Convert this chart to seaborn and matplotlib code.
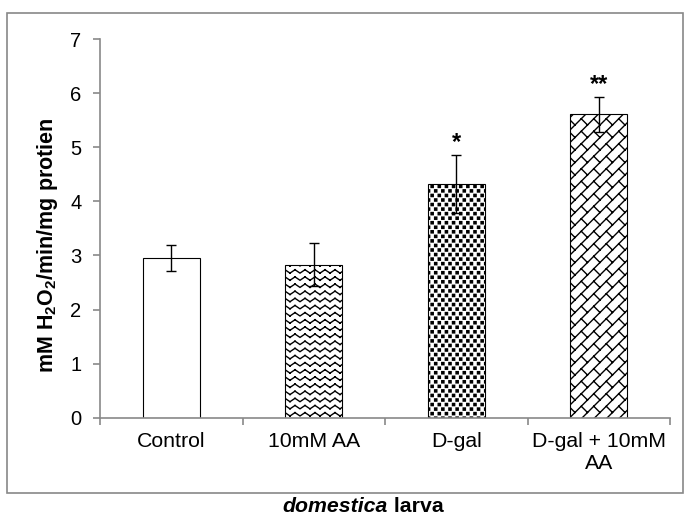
import warnings
warnings.filterwarnings("ignore")
import numpy as np
import pandas as pd
import matplotlib
matplotlib.use("Agg")
import matplotlib.pyplot as plt
import seaborn as sns
from matplotlib import hatch as mhatch
from matplotlib.path import Path
from matplotlib.patches import Rectangle

# ---------------- data ----------------
categories = ["Control", "10mM AA", "D-gal", "D-gal + 10mM\nAA"]
means = [2.95, 2.83, 4.32, 5.61]
errors = [0.24, 0.39, 0.53, 0.32]
marks = ["", "", "*", "**"]
yticks = [0, 1, 2, 3, 4, 5, 6, 7]
hatches = ["", "z", "s", "k"]
ylabel_text = r"mM H$_\mathbf{2}$O$_\mathbf{2}$/min/mg protien"


# ---------------- custom hatch patterns ----------------
def _fill(vertices, codes, items):
    i = 0
    for pts, cds in items:
        n = len(pts)
        vertices[i:i + n] = pts
        codes[i:i + n] = cds
        i += n


class ZigZagHatch(mhatch.HatchPatternBase):
    rows, cols, amp = 14, 10, 0.017

    def __init__(self, hatch, density):
        self.on = "z" in hatch
        self.num_vertices = (self.rows + 1) * self.cols * 4 if self.on else 0

    def set_vertices_and_codes(self, vertices, codes):
        items = []
        for i in range(self.rows + 1):
            y = i / self.rows
            for j in range(self.cols):
                x0 = j / self.cols
                xm = x0 + 0.5 / self.cols
                x1 = x0 + 1.0 / self.cols
                items.append(([(x0, y - self.amp), (xm, y + self.amp)], [Path.MOVETO, Path.LINETO]))
                items.append(([(xm, y + self.amp), (x1, y - self.amp)], [Path.MOVETO, Path.LINETO]))
        _fill(vertices, codes, items)


class SquareDotHatch(mhatch.HatchPatternBase):
    rows, cols, half = 22, 14, 0.011

    def __init__(self, hatch, density):
        self.on = "s" in hatch
        self.num_vertices = (self.rows + 1) * (self.cols + 2) * 5 if self.on else 0

    def set_vertices_and_codes(self, vertices, codes):
        items = []
        h = self.half
        for i in range(self.rows + 1):
            y = i / self.rows
            off = (i % 2) * 0.5 / self.cols
            for j in range(-1, self.cols + 1):
                x = j / self.cols + off
                items.append(([(x - h, y - h), (x + h, y - h), (x + h, y + h), (x - h, y + h), (x - h, y - h)],
                              [Path.MOVETO, Path.LINETO, Path.LINETO, Path.LINETO, Path.CLOSEPOLY]))
        _fill(vertices, codes, items)


class BrickDiagHatch(mhatch.HatchPatternBase):
    N, M = 8, 8

    def __init__(self, hatch, density):
        self.on = "k" in hatch
        nl = 2 * self.N + 1
        ns = (2 * self.N + 2) * (3 * self.M + 4)
        self.num_vertices = (nl + ns) * 2 if self.on else 0

    def set_vertices_and_codes(self, vertices, codes):
        items = []
        N, M = self.N, self.M
        for k in range(-N, N + 1):
            c = k / N
            items.append(([(-0.2, -0.2 + c), (1.2, 1.2 + c)], [Path.MOVETO, Path.LINETO]))
        for k in range(-N - 1, N + 1):
            for j in range(-M - 2, 2 * M + 2):
                x0 = j / M
                p0 = (x0, x0 + k / N)
                p1 = (x0 - 0.5 / N, x0 + k / N + 0.5 / N)
                items.append(([p0, p1], [Path.MOVETO, Path.LINETO]))
        _fill(vertices, codes, items)


mhatch._hatch_types.extend([ZigZagHatch, SquareDotHatch, BrickDiagHatch])

# ---------------- style ----------------
sns.set_theme(style="white")
plt.rcParams["font.family"] = ["Liberation Sans", "DejaVu Sans"]
plt.rcParams["mathtext.fontset"] = "custom"
plt.rcParams["mathtext.rm"] = "Liberation Sans"
plt.rcParams["mathtext.bf"] = "Liberation Sans:bold"
plt.rcParams["mathtext.it"] = "Liberation Sans:italic"
plt.rcParams["hatch.linewidth"] = 1.0
plt.rcParams["hatch.color"] = "black"

gray = "#898989"
W, H = 689, 517
fig = plt.figure(figsize=(W / 100, H / 100), dpi=100)
fig.patch.set_facecolor("white")
ax = fig.add_axes([100 / W, 1 - 417.7 / H, 570 / W, (417.7 - 39) / H])

df = pd.DataFrame({"group": categories, "value": means})
sns.barplot(data=df, x="group", y="value", order=categories, color="white",
            saturation=1, edgecolor="black", linewidth=0.8, width=0.4,
            errorbar=None, ax=ax)
for patch, hp in zip(ax.patches, hatches):
    patch.set_facecolor("white")
    patch.set_edgecolor("black")
    if hp:
        patch.set_hatch(hp)

pos = np.arange(len(categories))
ax.errorbar(pos, means, yerr=errors, fmt="none", ecolor="black",
            elinewidth=1.0, capsize=3.6, capthick=1.0, zorder=5)
for i, m in enumerate(marks):
    if m:
        ax.text(pos[i], means[i] + errors[i] + 0.02, m, ha="center", va="bottom",
                fontsize=17, fontweight="bold", color="black")

ax.set_xlim(-0.5, 3.5)
ax.set_ylim(0, 7)
ax.set_yticks(yticks)
ax.set_yticklabels([str(t) for t in yticks], fontsize=14.5, color="black")
ax.set_xticks(pos)
ax.set_xticklabels(categories, fontsize=15.3, color="black")
ax.set_xticks(np.arange(-0.5, len(categories), 1.0), minor=True)
ax.set_xlabel("")
ax.set_ylabel("")

ax.tick_params(axis="x", which="major", bottom=True, length=0, pad=10.5)
ax.tick_params(axis="x", which="minor", bottom=True, length=5, width=1.2,
               color=gray, direction="out")
ax.tick_params(axis="y", which="major", left=True, length=5, width=1.2,
               color=gray, direction="out", pad=8.3)
for s in ["top", "right"]:
    ax.spines[s].set_visible(False)
for s in ["left", "bottom"]:
    ax.spines[s].set_color(gray)
    ax.spines[s].set_linewidth(1.2)
ax.set_facecolor("white")
ax.grid(False)

fig.text(48 / W, 1 - 245 / H, ylabel_text, rotation=90, ha="center", va="center",
         fontsize=15.5, fontweight="bold", color="black")

# chart-area border
fig.add_artist(Rectangle((6.6 / W, 1 - 493 / H), (683 - 6.6) / W, (493 - 12.7) / H,
                         transform=fig.transFigure, fill=False, edgecolor="#888888",
                         linewidth=1.2))

# bottom caption: italic "domestica" + " larva"
r = fig.canvas.get_renderer()
base_y = 1 - 512 / H
t1 = fig.text(0, base_y, "domestica", fontsize=15.3, fontweight="bold",
              fontstyle="italic", ha="left", va="baseline", color="black")
t2 = fig.text(0, base_y, " larva", fontsize=15.3, fontweight="bold",
              ha="left", va="baseline", color="black")
w1 = t1.get_window_extent(r).width
w2 = t2.get_window_extent(r).width
x0 = 363 - (w1 + w2) / 2
t1.set_x(x0 / W)
t2.set_x((x0 + w1) / W)

fig.savefig("out.png", dpi=100, facecolor="white")
